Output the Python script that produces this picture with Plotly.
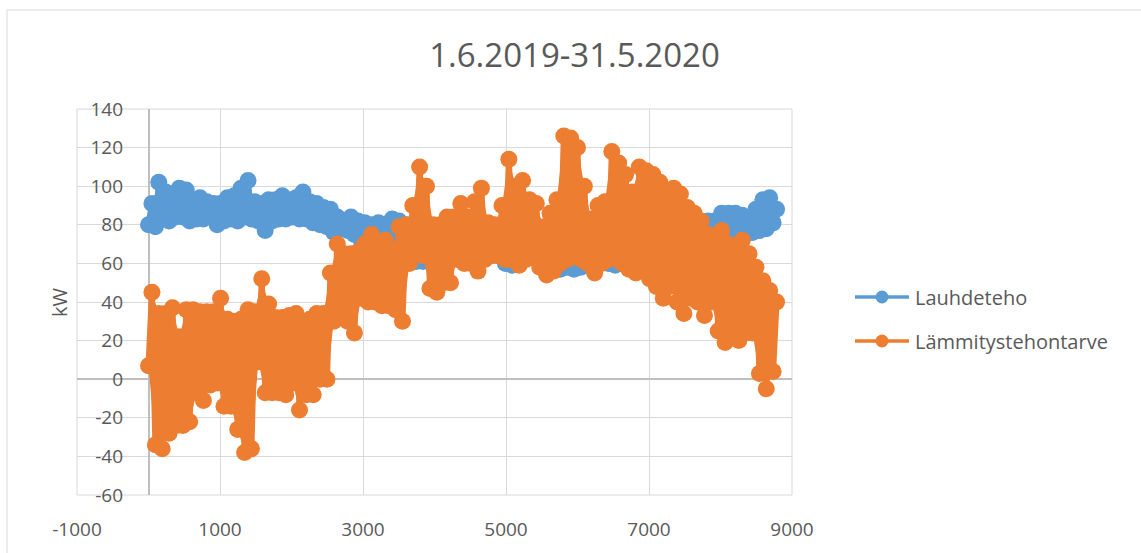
import plotly.graph_objects as go

# Sample hours from 1.6.2019 00:00, every second day
hours = list(range(0, 8785, 48))
hours_low = hours[0::2]
hours_high = hours[1::2]

# Lauhdeteho (kW): alternating daily lows / highs per sample pair
lauhdeteho_low = [80, 79, 83, 82, 84, 84, 82, 83, 83, 84,
                  80, 82, 83, 82, 84, 83, 82, 77, 82, 83,
                  83, 84, 83, 83, 81, 80, 79, 76, 78, 77,
                  75, 72, 70, 68, 70, 68, 66, 66, 64, 61,
                  61, 65, 64, 65, 64, 65, 63, 64, 63, 64,
                  65, 64, 60, 59, 62, 63, 64, 62, 63, 62,
                  57, 58, 57, 58, 62, 62, 61, 60, 59, 60,
                  63, 64, 64, 62, 61, 63, 64, 65, 66, 67,
                  68, 70, 72, 73, 74, 74, 75, 75, 76, 77,
                  78, 81]
lauhdeteho_high = [91, 102, 97, 96, 99, 98, 93, 94, 92, 91,
                   91, 94, 95, 99, 103, 92, 91, 93, 93, 95,
                   93, 94, 97, 92, 91, 89, 88, 84, 82, 84,
                   82, 81, 80, 81, 80, 83, 82, 80, 78, 79,
                   79, 78, 79, 78, 77, 77, 76, 76, 75, 76,
                   75, 76, 75, 74, 75, 76, 75, 74, 75, 76,
                   74, 75, 76, 75, 74, 75, 76, 75, 74, 75,
                   76, 75, 76, 75, 76, 77, 76, 77, 78, 79,
                   80, 82, 82, 86, 86, 86, 85, 83, 88, 93,
                   94, 88]

# Lämmitystehontarve (kW): alternating daily lows / highs per sample pair
lammitys_low = [7, -34, -36, -28, -24, -24, -22, -7, -11, -3,
                -2, -14, -14, -26, -38, -36, 9, -7, -7, -7,
                -8, -2, -16, -8, -8, 0, 0, 30, 32, 30,
                24, 42, 40, 40, 38, 38, 36, 30, 60, 66,
                64, 47, 45, 50, 50, 62, 60, 60, 56, 62,
                64, 64, 62, 62, 59, 62, 63, 58, 54, 56,
                60, 62, 64, 62, 60, 55, 60, 62, 64, 60,
                57, 55, 57, 52, 48, 42, 48, 40, 34, 42,
                40, 33, 40, 25, 19, 24, 20, 24, 24, 3,
                -5, 4]
lammitys_high = [45, 34, 34, 37, 22, 36, 36, 35, 35, 35,
                 42, 31, 30, 31, 36, 35, 52, 39, 32, 32,
                 33, 34, 30, 31, 34, 34, 55, 70, 65, 65,
                 66, 70, 75, 68, 72, 67, 79, 80, 90, 110,
                 100, 80, 80, 84, 84, 91, 84, 92, 99, 81,
                 80, 90, 114, 100, 103, 93, 91, 79, 86, 93,
                 126, 125, 120, 100, 83, 90, 92, 118, 112, 106,
                 97, 110, 108, 106, 102, 97, 99, 96, 89, 86,
                 82, 75, 74, 77, 70, 67, 72, 65, 58, 51,
                 46, 40]

series_names = ["Lauhdeteho", "Lämmitystehontarve"]
series_colors = ["#5B9BD5", "#ED7D31"]
series_lows = [lauhdeteho_low, lammitys_low]
series_highs = [lauhdeteho_high, lammitys_high]

x_ticks = [-1000, 1000, 3000, 5000, 7000, 9000]
y_ticks = [-60, -40, -20, 0, 20, 40, 60, 80, 100, 120, 140]


def interleave(low, high):
    out = []
    for lo, hi in zip(low, high):
        out.extend([lo, hi])
    return out


fig = go.Figure()
for name, color, low, high in zip(series_names, series_colors,
                                  series_lows, series_highs):
    # dense daily swing: shade between the lows and the highs
    fig.add_trace(go.Scatter(
        x=hours_low, y=low, mode="lines", line=dict(color=color, width=0),
        showlegend=False, hoverinfo="skip",
    ))
    fig.add_trace(go.Scatter(
        x=hours_high, y=high, mode="lines", line=dict(color=color, width=0),
        fill="tonexty", fillcolor=color,
        showlegend=False, hoverinfo="skip",
    ))
    # the series itself: line with round markers
    fig.add_trace(go.Scatter(
        x=hours, y=interleave(low, high), name=name, mode="lines+markers",
        line=dict(color=color, width=6, simplify=False),
        marker=dict(size=17, color=color, line=dict(width=0)),
        showlegend=False, hoverinfo="x+y+name",
    ))

# Figure geometry (pixels)
W, H = 1141, 553
PL, PR, PT, PB = 77, 792, 109, 495


def paper_x(px):
    return (px - PL) / (PR - PL)


def paper_y(py):
    return (PB - py) / (PB - PT)


grey_text = "#595959"
font_family = "Open Sans, Lato, DejaVu Sans, sans-serif"

shapes = [
    # chart area frame
    dict(type="rect", xref="paper", yref="paper",
         x0=paper_x(7), x1=paper_x(1160), y0=paper_y(575), y1=paper_y(10),
         line=dict(color="#D9D9D9", width=1), layer="below"),
    # plot area frame
    dict(type="rect", xref="paper", yref="paper", x0=0, x1=1, y0=0, y1=1,
         line=dict(color="#D9D9D9", width=1), layer="below"),
]
annotations = [
    dict(text="kW", xref="paper", yref="paper", x=paper_x(59), y=0.5,
         textangle=-90, showarrow=False, xanchor="center", yanchor="middle",
         font=dict(size=20, color=grey_text, family=font_family)),
]

# Legend keys drawn at the right of the plot
legend_rows = [297, 341]
for name, color, row in zip(series_names, series_colors, legend_rows):
    shapes.append(dict(type="line", xref="paper", yref="paper",
                       x0=paper_x(855), x1=paper_x(909),
                       y0=paper_y(row), y1=paper_y(row),
                       line=dict(color=color, width=3.5)))
    shapes.append(dict(type="circle", xref="paper", yref="paper",
                       xsizemode="pixel", ysizemode="pixel",
                       xanchor=paper_x(882), yanchor=paper_y(row),
                       x0=-6.5, x1=6.5, y0=-6.5, y1=6.5,
                       fillcolor=color, line=dict(color=color, width=0)))
    annotations.append(dict(text=name, xref="paper", yref="paper",
                            x=paper_x(913), y=paper_y(row),
                            xanchor="left", yanchor="middle", showarrow=False,
                            font=dict(size=20, color=grey_text, family=font_family)))

fig.update_layout(
    width=W, height=H,
    margin=dict(l=PL, r=W - PR, t=PT, b=H - PB, pad=0),
    paper_bgcolor="white", plot_bgcolor="white",
    font=dict(family=font_family, color=grey_text, size=19),
    title=dict(text="1.6.2019-31.5.2020", x=574.5 / W, xanchor="center",
               y=1 - 55.5 / H, yanchor="middle", yref="container",
               font=dict(size=33, color=grey_text, family=font_family)),
    showlegend=False,
    xaxis=dict(range=[-1000, 9000], tickvals=x_ticks,
               ticktext=[str(v) for v in x_ticks],
               showgrid=True, gridcolor="#D9D9D9", gridwidth=1,
               zeroline=True, zerolinecolor="#BFBFBF", zerolinewidth=1.5,
               showline=False, ticks="", ticklabelstandoff=21,
               tickfont=dict(size=19, color=grey_text)),
    yaxis=dict(range=[-60, 140], tickvals=y_ticks,
               ticktext=[str(v) for v in y_ticks],
               showgrid=True, gridcolor="#D9D9D9", gridwidth=1,
               zeroline=True, zerolinecolor="#BFBFBF", zerolinewidth=1.5,
               showline=False, ticks="", anchor="free",
               position=paper_x(149), ticklabelstandoff=26,
               tickfont=dict(size=19, color=grey_text)),
    shapes=shapes, annotations=annotations,
)

fig.write_html("out.html")
